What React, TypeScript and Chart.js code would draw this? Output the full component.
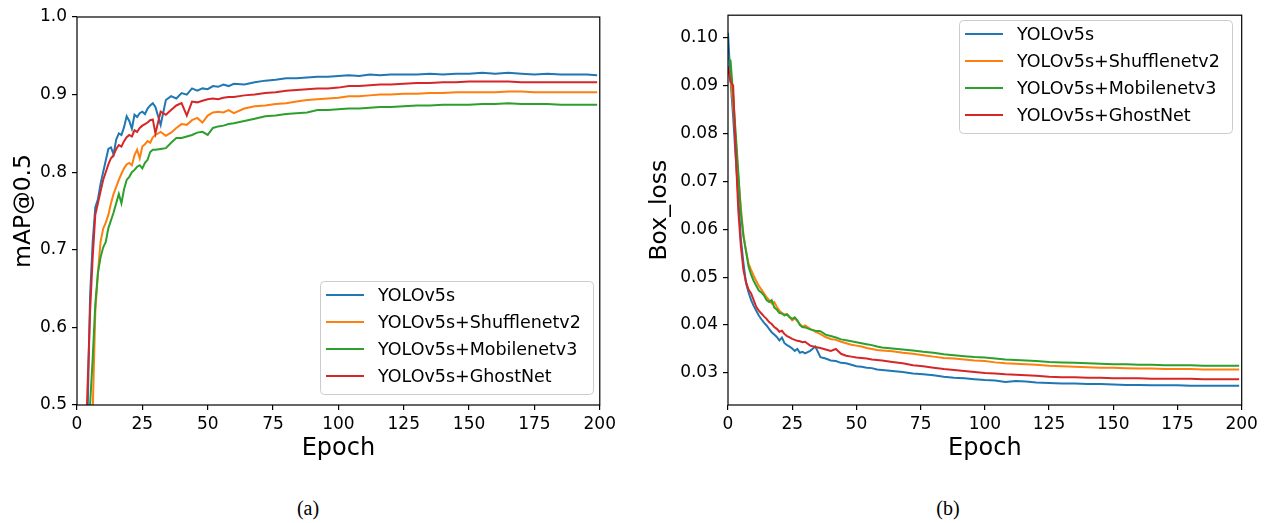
import React, { useEffect, useRef } from "react";
import { Chart, registerables } from "chart.js";

Chart.register(...registerables);
Chart.defaults.font.family = "'DejaVu Sans', sans-serif";

// ---------------- data ----------------
const EPOCHS = [
  0, 1, 2, 3, 4, 5, 6, 7, 8, 9, 10, 11, 12, 13, 14, 15, 16, 17, 18, 19, 20, 21, 22, 23, 24, 25, 26, 27, 28, 29, 30,
  32, 34, 36, 38, 40, 42, 44, 46, 48, 50, 52, 54, 56, 58, 60,
  64, 68, 72, 76, 80, 84, 88, 92, 96, 100, 104, 108, 112, 116, 120,
  125, 130, 135, 140, 145, 150, 155, 160, 165, 170, 175, 180, 185, 190, 195,
  199,
];

const SERIES_LABELS = ["YOLOv5s", "YOLOv5s+Shufflenetv2", "YOLOv5s+Mobilenetv3", "YOLOv5s+GhostNet"];
const SERIES_COLORS = ["#1f77b4", "#ff7f0e", "#2ca02c", "#d62728"];

// mAP@0.5
const MAP_YOLOV5S = [
  0.02, 0.10, 0.22, 0.36, 0.48, 0.64, 0.71, 0.755, 0.765, 0.785, 0.80, 0.815, 0.83, 0.832, 0.823, 0.842, 0.85, 0.848, 0.858, 0.872, 0.866, 0.856, 0.874, 0.871, 0.876, 0.878, 0.875, 0.882, 0.886, 0.889, 0.884,
  0.861, 0.893, 0.898, 0.895, 0.902, 0.900, 0.908, 0.905, 0.908, 0.907, 0.911, 0.910, 0.913, 0.911, 0.914,
  0.913, 0.916, 0.918, 0.919, 0.921, 0.921, 0.922, 0.923, 0.923, 0.924, 0.925, 0.924, 0.926, 0.925, 0.926,
  0.926, 0.926, 0.927, 0.926, 0.927, 0.927, 0.928, 0.927, 0.928, 0.927, 0.926, 0.927, 0.926, 0.926, 0.926,
  0.925,
];
const MAP_SHUFFLENET = [
  0.0, 0.05, 0.12, 0.22, 0.33, 0.44, 0.49, 0.62, 0.67, 0.71, 0.727, 0.735, 0.745, 0.76, 0.772, 0.781, 0.79, 0.798, 0.805, 0.81, 0.812, 0.809, 0.822, 0.829, 0.818, 0.833, 0.836, 0.84, 0.838, 0.845, 0.848,
  0.852, 0.847, 0.851, 0.857, 0.862, 0.861, 0.867, 0.870, 0.864, 0.873, 0.877, 0.878, 0.877, 0.880, 0.876,
  0.882, 0.885, 0.886, 0.888, 0.889, 0.891, 0.893, 0.894, 0.895, 0.896, 0.898, 0.898, 0.899, 0.900, 0.900,
  0.901, 0.901, 0.902, 0.902, 0.903, 0.903, 0.903, 0.903, 0.904, 0.904, 0.903, 0.903, 0.903, 0.903, 0.903,
  0.903,
];
const MAP_MOBILENET = [
  0.0, 0.06, 0.15, 0.28, 0.40, 0.50, 0.56, 0.63, 0.67, 0.69, 0.703, 0.71, 0.728, 0.738, 0.748, 0.76, 0.772, 0.76, 0.778, 0.79, 0.794, 0.80, 0.803, 0.807, 0.809, 0.805, 0.812, 0.816, 0.826, 0.829, 0.829,
  0.83, 0.831, 0.838, 0.844, 0.844, 0.846, 0.848, 0.851, 0.852, 0.848, 0.857, 0.859, 0.860, 0.862, 0.863,
  0.866, 0.869, 0.872, 0.873, 0.875, 0.876, 0.877, 0.880, 0.880, 0.881, 0.882, 0.882, 0.883, 0.884, 0.884,
  0.885, 0.886, 0.886, 0.887, 0.887, 0.887, 0.888, 0.888, 0.889, 0.888, 0.888, 0.888, 0.887, 0.887, 0.887,
  0.887,
];
const MAP_GHOSTNET = [
  0.03, 0.12, 0.25, 0.40, 0.52, 0.62, 0.69, 0.745, 0.76, 0.775, 0.79, 0.80, 0.81, 0.818, 0.822, 0.83, 0.835, 0.833, 0.84, 0.845, 0.848, 0.846, 0.854, 0.852, 0.857, 0.86, 0.862, 0.864, 0.867, 0.868, 0.85,
  0.878, 0.874, 0.880, 0.886, 0.889, 0.873, 0.891, 0.890, 0.892, 0.894, 0.895, 0.894, 0.896, 0.897, 0.897,
  0.899, 0.900, 0.902, 0.903, 0.905, 0.906, 0.907, 0.908, 0.908, 0.909, 0.911, 0.911, 0.912, 0.913, 0.913,
  0.914, 0.915, 0.915, 0.916, 0.916, 0.917, 0.917, 0.917, 0.917, 0.916, 0.916, 0.916, 0.916, 0.916, 0.916,
  0.916,
];

// Box_loss
const LOSS_YOLOV5S = [
  0.101, 0.091, 0.0835, 0.075, 0.067, 0.058, 0.053, 0.0488, 0.0468, 0.0452, 0.0440, 0.043, 0.042, 0.0412, 0.0405, 0.0399, 0.0392, 0.0385, 0.038, 0.0375, 0.0368, 0.0374, 0.0362, 0.0358, 0.0355, 0.0351, 0.0346, 0.0350, 0.0342, 0.0344, 0.0341,
  0.0346, 0.0355, 0.0333, 0.0330, 0.0326, 0.0325, 0.0321, 0.0320, 0.0317, 0.0314, 0.0313, 0.0311, 0.0310, 0.0307, 0.0306,
  0.0304, 0.0302, 0.0299, 0.0297, 0.0295, 0.0292, 0.0290, 0.0289, 0.0287, 0.0285, 0.0284, 0.0281, 0.0283, 0.0282, 0.0280,
  0.0279, 0.0278, 0.0278, 0.0277, 0.0277, 0.0276, 0.0275, 0.0275, 0.0274, 0.0274, 0.0274, 0.0273, 0.0273, 0.0273, 0.0273,
  0.0273,
];
const LOSS_SHUFFLENET = [
  0.094, 0.0915, 0.086, 0.079, 0.071, 0.0645, 0.059, 0.0555, 0.0528, 0.0515, 0.0503, 0.0492, 0.0482, 0.0474, 0.0466, 0.0458, 0.0452, 0.0445, 0.0448, 0.0438, 0.0430, 0.0425, 0.0422, 0.0423, 0.0417, 0.0410, 0.0414, 0.0408, 0.0402, 0.0396, 0.0399,
  0.0392, 0.0386, 0.0381, 0.0375, 0.0371, 0.0369, 0.0365, 0.0362, 0.0359, 0.0357, 0.0355, 0.0352, 0.0350, 0.0348, 0.0347,
  0.0345, 0.0342, 0.0340, 0.0337, 0.0334, 0.0331, 0.0330, 0.0328, 0.0326, 0.0325, 0.0322, 0.0320, 0.0319, 0.0318, 0.0317,
  0.0315, 0.0314, 0.0313, 0.0312, 0.0311, 0.0311, 0.0310, 0.0309, 0.0309, 0.0308, 0.0308, 0.0308, 0.0307, 0.0307, 0.0307,
  0.0307,
];
const LOSS_MOBILENET = [
  0.0958, 0.0952, 0.0880, 0.080, 0.072, 0.0635, 0.0585, 0.0555, 0.0522, 0.0505, 0.0492, 0.0482, 0.0472, 0.0468, 0.0462, 0.0452, 0.0448, 0.0452, 0.0437, 0.0432, 0.0425, 0.0424, 0.0420, 0.0422, 0.0416, 0.0413, 0.0416, 0.0410, 0.0400, 0.0396, 0.0395,
  0.0391, 0.0388, 0.0387, 0.0380, 0.0377, 0.0374, 0.0370, 0.0368, 0.0366, 0.0364, 0.0362, 0.0360, 0.0358, 0.0355, 0.0353,
  0.0351, 0.0349, 0.0347, 0.0344, 0.0342, 0.0339, 0.0337, 0.0335, 0.0333, 0.0332, 0.0330, 0.0328, 0.0327, 0.0326, 0.0325,
  0.0323, 0.0322, 0.0321, 0.0320, 0.0319, 0.0318, 0.0318, 0.0317, 0.0317, 0.0316, 0.0316, 0.0316, 0.0315, 0.0315, 0.0315,
  0.0315,
];
const LOSS_GHOSTNET = [
  0.094, 0.0908, 0.0900, 0.076, 0.064, 0.0565, 0.0515, 0.049, 0.0474, 0.0466, 0.0452, 0.0438, 0.043, 0.0424, 0.0418, 0.0413, 0.0406, 0.0402, 0.0396, 0.0392, 0.0386, 0.0388, 0.0381, 0.0377, 0.0374, 0.0371, 0.0369, 0.0367, 0.0366, 0.0364, 0.0365,
  0.0357, 0.0354, 0.0352, 0.0349, 0.0346, 0.0350, 0.0340, 0.0336, 0.0334, 0.0332, 0.0331, 0.0330, 0.0328, 0.0327, 0.0326,
  0.0323, 0.0320, 0.0316, 0.0314, 0.0311, 0.0308, 0.0306, 0.0304, 0.0302, 0.0300, 0.0299, 0.0297, 0.0296, 0.0295, 0.0294,
  0.0292, 0.0291, 0.0291, 0.0290, 0.0290, 0.0289, 0.0289, 0.0289, 0.0288, 0.0288, 0.0288, 0.0288, 0.0287, 0.0287, 0.0287,
  0.0287,
];

const X_TICKS = [0, 25, 50, 75, 100, 125, 150, 175, 200];
const MAP_TICKS = [0.5, 0.6, 0.7, 0.8, 0.9, 1.0];
const LOSS_TICKS = [0.03, 0.04, 0.05, 0.06, 0.07, 0.08, 0.09, 0.10];

// ---------------- plugins ----------------
const framePlugin = {
  id: "frame",
  afterDatasetsDraw(chart: any) {
    const { ctx, chartArea } = chart;
    const { left, top, right, bottom } = chartArea;
    ctx.save();
    ctx.strokeStyle = "#000";
    ctx.lineWidth = 1.2;
    ctx.strokeRect(left, top, right - left, bottom - top);
    ctx.restore();
  },
};

const boxLegendPlugin = {
  id: "boxLegend",
  afterDraw(chart: any, _args: any, opts: any) {
    const { ctx } = chart;
    const x = opts.x;
    const y = opts.y;
    const w = 273;
    const h = 113;
    ctx.save();
    ctx.beginPath();
    if (ctx.roundRect) ctx.roundRect(x + 0.5, y + 0.5, w, h, 4);
    else ctx.rect(x + 0.5, y + 0.5, w, h);
    ctx.fillStyle = "rgba(255,255,255,0.8)";
    ctx.fill();
    ctx.strokeStyle = "#cccccc";
    ctx.lineWidth = 1;
    ctx.stroke();
    chart.data.datasets.forEach((ds: any, i: number) => {
      const cy = y + 14 + i * 27;
      ctx.beginPath();
      ctx.moveTo(x + 6, cy);
      ctx.lineTo(x + 44, cy);
      ctx.strokeStyle = ds.borderColor;
      ctx.lineWidth = 2;
      ctx.stroke();
      ctx.fillStyle = "#000";
      ctx.font = "17.5px 'DejaVu Sans'";
      ctx.textBaseline = "middle";
      ctx.textAlign = "left";
      ctx.fillText(ds.label, x + 58, cy + 1);
    });
    ctx.restore();
  },
};

function buildDatasets(series: number[][]) {
  return series.map((vals, i) => ({
    label: SERIES_LABELS[i],
    data: EPOCHS.map((e, j) => ({ x: e, y: vals[j] })),
    borderColor: SERIES_COLORS[i],
    backgroundColor: SERIES_COLORS[i],
    borderWidth: 2,
    pointRadius: 0,
    tension: 0,
    fill: false,
    order: 3 - i,
  }));
}

function makeConfig(opts: {
  series: number[][];
  yMin: number;
  yMax: number;
  yTicks: number[];
  yDigits: number;
  yTitle: string;
  yWidth: number;
  yTitlePad: number;
  padTop: number;
  padRight: number;
  legend: { x: number; y: number };
}): any {
  const tickGrid = {
    display: true,
    drawOnChartArea: false,
    drawTicks: true,
    tickLength: 5,
    color: "#000",
    lineWidth: 1.2,
  };
  return {
    type: "line",
    data: { datasets: buildDatasets(opts.series) },
    options: {
      responsive: false,
      animation: false,
      devicePixelRatio: 1,
      layout: { padding: { left: 0, top: opts.padTop, right: opts.padRight, bottom: 0 } },
      plugins: {
        legend: { display: false },
        tooltip: { enabled: false },
        boxLegend: opts.legend,
      },
      scales: {
        x: {
          type: "linear",
          min: 0,
          max: 200,
          afterBuildTicks: (a: any) => {
            a.ticks = X_TICKS.map((v) => ({ value: v }));
          },
          afterFit: (s: any) => {
            s.height = 75;
          },
          grid: tickGrid,
          border: { display: false },
          ticks: {
            font: { size: 17 },
            color: "#000",
            padding: 4,
            maxRotation: 0,
            autoSkip: false,
            callback: (v: any) => String(v),
          },
          title: {
            display: true,
            text: "Epoch",
            font: { size: 24 },
            color: "#000",
            padding: { top: 0, bottom: 16.5 },
          },
        },
        y: {
          type: "linear",
          min: opts.yMin,
          max: opts.yMax,
          afterBuildTicks: (a: any) => {
            a.ticks = opts.yTicks.map((v) => ({ value: v }));
          },
          afterFit: (s: any) => {
            s.width = opts.yWidth;
          },
          grid: tickGrid,
          border: { display: false },
          ticks: {
            font: { size: 17 },
            color: "#000",
            padding: 5,
            autoSkip: false,
            callback: (v: any) => Number(v).toFixed(opts.yDigits),
          },
          title: {
            display: true,
            text: opts.yTitle,
            font: { size: 23.5 },
            color: "#000",
            padding: { top: opts.yTitlePad, bottom: 0 },
          },
        },
      },
    },
    plugins: [framePlugin, boxLegendPlugin],
  };
}

export default function App() {
  const leftRef = useRef<HTMLCanvasElement | null>(null);
  const rightRef = useRef<HTMLCanvasElement | null>(null);

  useEffect(() => {
    const left = new Chart(
      leftRef.current as HTMLCanvasElement,
      makeConfig({
        series: [MAP_YOLOV5S, MAP_SHUFFLENET, MAP_MOBILENET, MAP_GHOSTNET],
        yMin: 0.5,
        yMax: 1.0,
        yTicks: MAP_TICKS,
        yDigits: 1,
        yTitle: "mAP@0.5",
        yWidth: 77,
        yTitlePad: 10,
        padTop: 17,
        padRight: 18.5,
        legend: { x: 320, y: 281 },
      })
    );
    const right = new Chart(
      rightRef.current as HTMLCanvasElement,
      makeConfig({
        series: [LOSS_YOLOV5S, LOSS_SHUFFLENET, LOSS_MOBILENET, LOSS_GHOSTNET],
        yMin: 0.0233,
        yMax: 0.1047,
        yTicks: LOSS_TICKS,
        yDigits: 2,
        yTitle: "Box_loss",
        yWidth: 88,
        yTitlePad: 6,
        padTop: 11,
        padRight: 24.3,
        legend: { x: 319, y: 20 },
      })
    );
    return () => {
      left.destroy();
      right.destroy();
    };
  }, []);

  const caption: React.CSSProperties = {
    position: "absolute",
    top: 497,
    width: 100,
    textAlign: "center",
    fontFamily: "'Liberation Serif', 'Times New Roman', serif",
    fontSize: 20,
    lineHeight: "22px",
    color: "#000",
  };

  return (
    <div style={{ position: "fixed", left: 0, top: 0, width: 1266, height: 523, background: "#fff", overflow: "hidden" }}>
      <canvas ref={leftRef} width={620} height={480} style={{ position: "absolute", left: 0, top: 0, width: 620, height: 480 }} />
      <canvas ref={rightRef} width={626} height={480} style={{ position: "absolute", left: 640, top: 0, width: 626, height: 480 }} />
      <div style={{ ...caption, left: 258 }}>(a)</div>
      <div style={{ ...caption, left: 898 }}>(b)</div>
    </div>
  );
}
